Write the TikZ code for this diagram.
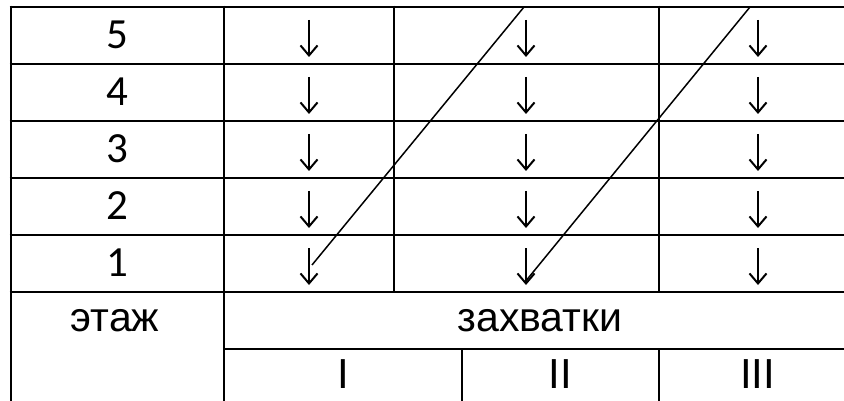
\documentclass[tikz,border=0pt]{standalone}
\usepackage{fontspec}
\setmainfont{Liberation Sans}
\newfontfamily\digitfont{Carlito}
\usetikzlibrary{arrows.meta}
\tikzset{
  grid/.style={line width=2.8pt},
  diag/.style={line width=1.5pt},
  downarrow/.style={line width=2pt, -{Straight Barb[length=10pt,width=17pt,line width=2pt]}},
  num/.style={inner sep=0pt, font=\digitfont\fontsize{43}{50}\selectfont},
  lbl/.style={inner sep=0pt, font=\fontsize{41}{49}\selectfont},
  roman/.style={inner sep=0pt, font=\fontsize{42}{50}\selectfont},
}
\begin{document}
\begin{tikzpicture}[x=1pt,y=-1pt]
\useasboundingbox (0,0) rectangle (844,401);
\fill[white] (0,0) rectangle (844,401);
% horizontal lines
\foreach \yy in {7,64,121,178,235,292}
  \draw[grid] (9.6,\yy) -- (844,\yy);
\draw[grid] (224,349) -- (844,349);
% vertical lines
\draw[grid] (11,5.6) -- (11,401);
\draw[grid] (224,5.6) -- (224,401);
\draw[grid] (394,5.6) -- (394,293.4);
\draw[grid] (659,5.6) -- (659,293.4);
\draw[grid] (462,349) -- (462,401);
\draw[grid] (659,349) -- (659,401);
% floor numbers
\foreach \n/\yy in {5/35,4/92,3/149,2/206,1/263}
  \node[num] (f\n) at (117,\yy) {\n};
% arrows
\foreach \r/\t in {5/7,4/64,3/121,2/178,1/235}{
  \coordinate (a1s\r) at (309,\t+13); \coordinate (a1e\r) at (309,\t+50);
  \coordinate (a2s\r) at (526,\t+13); \coordinate (a2e\r) at (526,\t+50);
  \coordinate (a3s\r) at (758,\t+13); \coordinate (a3e\r) at (758,\t+50);
  \draw[downarrow] (a1s\r) -- (a1e\r);
  \draw[downarrow] (a2s\r) -- (a2e\r);
  \draw[downarrow] (a3s\r) -- (a3e\r);
}
% diagonals
\coordinate (d1a) at (312,265); \coordinate (d1b) at (524,7);
\coordinate (d2a) at (525,282); \coordinate (d2b) at (750,7);
\draw[diag] (d1a) -- (d1b);
\draw[diag] (d2a) -- (d2b);
% labels
\node[lbl] (floor) at (115,320.5) {этаж};
\node[lbl] (zah) at (540,320.5) {захватки};
\node[roman] (z1) at (343,374) {I};
\node[roman] (z2) at (560,374) {II};
\node[roman] (z3) at (757.5,374) {III};
\end{tikzpicture}
\end{document}
